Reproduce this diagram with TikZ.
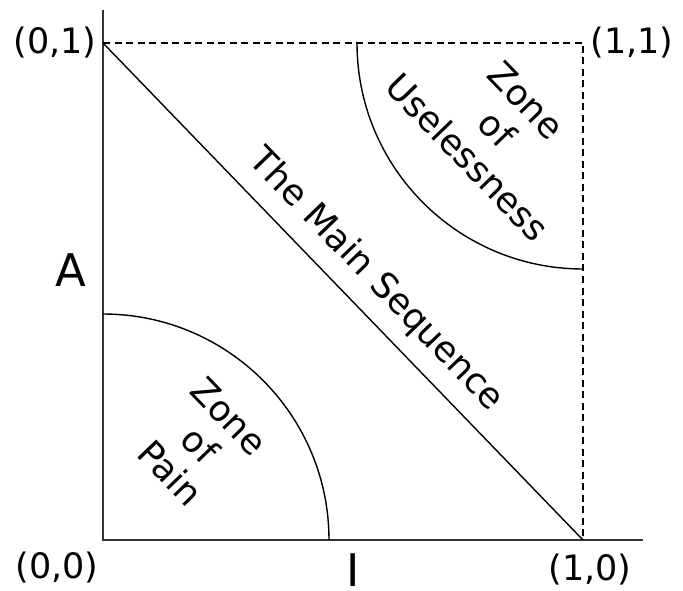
\documentclass[tikz,border=0pt]{standalone}
\usepackage{fontspec}
\setmainfont{DejaVu Sans}
\begin{document}
\begin{tikzpicture}[x=1pt,y=1pt,
  axisline/.style={line width=2.2pt,draw=black!80},
  thinline/.style={line width=1.4pt},
  dashline/.style={line width=1.4pt,dash pattern=on 7pt off 4.5pt},
  lbl/.style={font=\fontsize{35}{42}\selectfont,inner sep=0pt},
  biglbl/.style={font=\fontsize{45}{54}\selectfont,inner sep=0pt},
  zone/.style={font=\fontsize{35.5}{41}\selectfont,align=center,inner sep=0pt,rotate=-46}]
\useasboundingbox (0,0) rectangle (683,590);
\coordinate (O) at (103,50);
\coordinate (Ytop) at (103,580);
\coordinate (Xend) at (643,50);
\coordinate (Y1) at (103,547);
\coordinate (X1) at (583,50);
\coordinate (C11) at (583,547);
\draw[axisline] (Ytop) -- (O) -- (Xend);
\draw[dashline] (Y1) -- (C11) -- (X1);
\draw[thinline] (Y1) -- (X1);
\draw[thinline] (103,276) arc (90:0:226);
\draw[thinline] (357,547) arc (180:270:226);
\node[lbl] (l01) at (55,547) {(0,1)};
\node[lbl] (l11) at (632,547) {(1,1)};
\node[lbl] (l00) at (57,22) {(0,0)};
\node[lbl] (l10) at (590,20) {(1,0)};
\node[biglbl,anchor=base] (la) at (71,303) {A};
\node[biglbl,anchor=base] (li) at (353,4) {I};
\node[zone] (ms) at (376,310) {The Main Sequence};
\node[zone] (zu) at (497,461) {Zone\\of\\Uselessness};
\node[zone] (zp) at (200,145) {Zone\\of\\Pain};
\end{tikzpicture}
\end{document}
